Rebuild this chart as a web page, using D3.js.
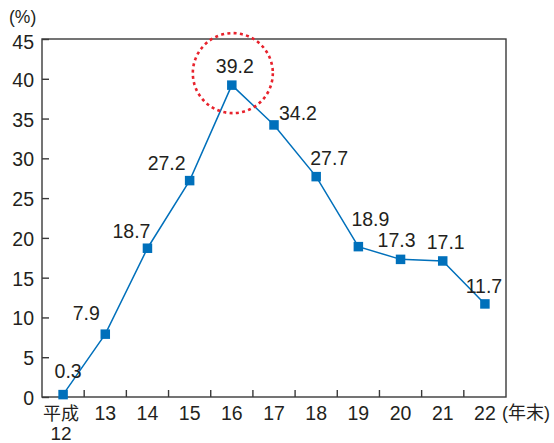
<!DOCTYPE html>
<html>
<head>
<meta charset="utf-8">
<script src="https://cdn.jsdelivr.net/npm/d3@7"></script>
<style>
  html, body { margin: 0; padding: 0; background: #fff; }
  svg { display: block; }
  text { font-family: "Liberation Sans", Arial, "Noto Sans CJK JP", sans-serif; fill: #231f20; }
</style>
</head>
<body>
<svg id="chart" width="554" height="443"></svg>
<script>
// Year-end rate (%), Heisei 12 to 22
const categories = ["平成12", "13", "14", "15", "16", "17", "18", "19", "20", "21", "22"];
const values = [0.3, 7.9, 18.7, 27.2, 39.2, 34.2, 27.7, 18.9, 17.3, 17.1, 11.7];
const yTicks = [0, 5, 10, 15, 20, 25, 30, 35, 40, 45];
const yUnit = "(%)";
const xUnit = "(年末)";
const highlightIndex = 4;

// where each value label sits relative to its marker (centre x, baseline y)
const labelOffset = [[5, -17], [-19, -14], [-16, -10], [-23, -11], [3, -12], [24, -5],
                     [13, -12], [12, -21], [-4, -12], [3, -12], [-1, -11]];

const svg = d3.select("#chart");
const m = { left: 42, right: 48, top: 39, bottom: 46 };
const W = 554, H = 443;
const x0 = m.left, x1 = W - m.right, y0 = H - m.bottom, y1 = m.top;

const x = d3.scaleBand().domain(categories).range([x0, x1]).paddingInner(0).paddingOuter(0);
const y = d3.scaleLinear().domain([0, 45]).range([y0, y1]);
const cx = d => x(d) + x.bandwidth() / 2;

const axisColor = "#3a3a3a";

// frame
svg.append("rect")
  .attr("x", x0).attr("y", y1).attr("width", x1 - x0).attr("height", y0 - y1)
  .attr("fill", "none").attr("stroke", axisColor).attr("stroke-width", 1.4);

// y axis: inward ticks
const yAxis = svg.append("g").attr("transform", `translate(${x0},0)`)
  .call(d3.axisRight(y).tickValues(yTicks).tickSize(7).tickFormat(""));
yAxis.select(".domain").remove();
yAxis.selectAll("line").attr("stroke", axisColor).attr("stroke-width", 1.4);

svg.append("g").selectAll("text").data(yTicks).join("text")
  .attr("x", 34).attr("y", d => y(d) + (d === 45 ? 3 : 1))
  .attr("dy", "0.36em").attr("text-anchor", "end")
  .attr("font-size", 19.5).text(d => d);

// x axis: ticks on band boundaries, pointing up
const bounds = categories.slice(1).map(c => x(c));
svg.append("g").selectAll("line").data(bounds).join("line")
  .attr("x1", d => d).attr("x2", d => d)
  .attr("y1", y0).attr("y2", y0 - 7)
  .attr("stroke", axisColor).attr("stroke-width", 1.4);

const xl = svg.append("g");
categories.forEach((c, i) => {
  if (i === 0) {
    xl.append("text").attr("x", cx(c) - 2).attr("y", 420).attr("text-anchor", "middle")
      .attr("font-size", 18).attr("font-family", "Noto Sans CJK JP").text(c.slice(0, 2));
    xl.append("text").attr("x", cx(c) - 2).attr("y", 440).attr("text-anchor", "middle")
      .attr("font-size", 19).text(c.slice(2));
  } else {
    xl.append("text").attr("x", cx(c)).attr("y", 420).attr("text-anchor", "middle")
      .attr("font-size", 19.5).text(c);
  }
});

svg.append("text").attr("x", 502).attr("y", 419)
  .attr("font-size", 18).attr("font-family", "Noto Sans CJK JP").text(xUnit);
svg.append("text").attr("x", 9).attr("y", 23)
  .attr("font-size", 17.5).text(yUnit);

// line + markers
const blue = "#0070bb";
const pts = categories.map((c, i) => ({ c, v: values[i], i }));
svg.append("path").datum(pts)
  .attr("fill", "none").attr("stroke", blue).attr("stroke-width", 1.5)
  .attr("d", d3.line().x(d => cx(d.c)).y(d => y(d.v)));

const s = 9.5;
svg.append("g").selectAll("rect").data(pts).join("rect")
  .attr("x", d => cx(d.c) - s / 2).attr("y", d => y(d.v) - s / 2)
  .attr("width", s).attr("height", s).attr("fill", blue);

// value labels
svg.append("g").selectAll("text").data(pts).join("text")
  .attr("x", d => cx(d.c) + labelOffset[d.i][0])
  .attr("y", d => y(d.v) + labelOffset[d.i][1])
  .attr("text-anchor", "middle").attr("font-size", 19.5)
  .text(d => d.v.toFixed(1));

// dotted ring around the peak
const peak = pts[highlightIndex];
svg.append("circle")
  .attr("cx", cx(peak.c) + 1).attr("cy", y(peak.v) - 12).attr("r", 40)
  .attr("fill", "none").attr("stroke", "#e8232d").attr("stroke-width", 2.6)
  .attr("stroke-dasharray", "3 3.3");
</script>
</body>
</html>
